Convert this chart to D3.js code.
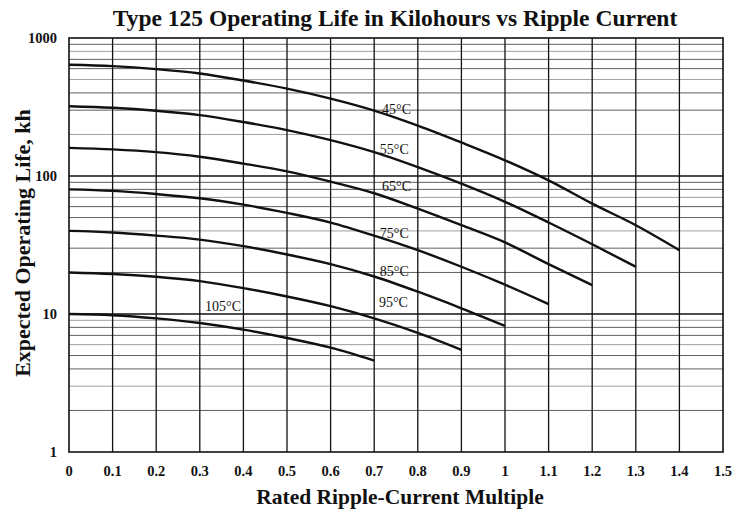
<!DOCTYPE html>
<html>
<head>
<meta charset="utf-8">
<script src="https://cdn.jsdelivr.net/npm/d3@7"></script>
<style>
  body { margin: 0; background: #fff; }
  svg { display: block; }
  text { font-family: "Liberation Serif", "Times New Roman", serif; fill: #111; }
</style>
</head>
<body>
<svg id="viz" width="737" height="517"></svg>
<script>
// values (kilohours at each ripple multiple)
var xsteps = [0, 0.1, 0.2, 0.3, 0.4, 0.5, 0.6, 0.7, 0.8, 0.9, 1.0, 1.1, 1.2, 1.3, 1.4]

var life45  = [640, 625, 595, 553, 492, 430, 364, 298, 232, 175, 130, 93, 63, 44, 29]
var life55  = [320, 312, 297, 276, 246, 215, 182, 149, 116, 88, 65, 46, 32, 22]
var life65  = [160, 156, 149, 138, 123, 108, 91, 75, 58, 44, 33, 23, 16.2]
var life75  = [80, 78, 74, 69, 62, 54, 46, 37, 29, 22, 16.3, 11.8]
var life85  = [40, 39, 37, 34.6, 31, 27, 23, 18.7, 14.5, 11, 8.2]
var life95  = [20, 19.5, 18.6, 17.3, 15.4, 13.4, 11.4, 9.3, 7.3, 5.5]
var life105 = [10, 9.8, 9.3, 8.6, 7.7, 6.7, 5.7, 4.6]

var series = [life45, life55, life65, life75, life85, life95, life105]
var temps = ["45°C", "55°C", "65°C", "75°C", "85°C", "95°C", "105°C"]
// label anchors in chart units: [multiple, kh]
var labelAt = [[0.718, 308], [0.713, 156], [0.718, 84], [0.713, 38.4], [0.713, 20.4], [0.711, 12.2], [0.312, 11.4]]

var xTicks = [0, 0.1, 0.2, 0.3, 0.4, 0.5, 0.6, 0.7, 0.8, 0.9, 1, 1.1, 1.2, 1.3, 1.4, 1.5]
var yTicks = [1, 10, 100, 1000]

var svg = d3.select("#viz")
var pl = 69, pr = 723, pt = 38, pb = 452

var x = d3.scaleLinear().domain([0, 1.5]).range([pl, pr])
var y = d3.scaleLog().domain([1, 1000]).range([pb, pt])

// minor horizontal grid (2..9 in each decade)
var minors = []
;[1, 10, 100].forEach(function (d) {
    for (var k = 2; k <= 9; k++) minors.push(d * k)
})
svg.append("g")
    .selectAll("line")
    .data(minors)
    .enter().append("line")
    .attr("x1", pl).attr("x2", pr)
    .attr("y1", d => y(d)).attr("y2", d => y(d))
    .attr("stroke", (d, i) => i % 3 == 1 ? "#a0a0a0" : "#606060")
    .attr("stroke-width", 1)

// major horizontal lines
svg.append("g")
    .selectAll("line")
    .data([10, 100])
    .enter().append("line")
    .attr("x1", pl).attr("x2", pr)
    .attr("y1", d => y(d)).attr("y2", d => y(d))
    .attr("stroke", "#111")
    .attr("stroke-width", 1.3)

// vertical grid
svg.append("g")
    .selectAll("line")
    .data(xTicks.slice(1, -1))
    .enter().append("line")
    .attr("x1", d => x(d)).attr("x2", d => x(d))
    .attr("y1", pt).attr("y2", pb)
    .attr("stroke", "#111")
    .attr("stroke-width", 1.3)

// frame
svg.append("rect")
    .attr("x", pl).attr("y", pt)
    .attr("width", pr - pl).attr("height", pb - pt)
    .attr("fill", "none")
    .attr("stroke", "#111")
    .attr("stroke-width", 1.6)

// curves
var line = d3.line()
    .x((d, i) => x(xsteps[i]))
    .y(d => y(d))
    .curve(d3.curveMonotoneX)

svg.append("g")
    .selectAll("path")
    .data(series)
    .enter().append("path")
    .attr("d", line)
    .attr("fill", "none")
    .attr("stroke", "#111")
    .attr("stroke-width", 2.4)

// curve labels
svg.append("g")
    .selectAll("text")
    .data(temps)
    .enter().append("text")
    .attr("x", (d, i) => x(labelAt[i][0]))
    .attr("y", (d, i) => y(labelAt[i][1]) + 5)
    .attr("font-size", "14px")
    .text(d => d)

// x tick labels
svg.append("g")
    .selectAll("text")
    .data(xTicks)
    .enter().append("text")
    .attr("x", d => x(d))
    .attr("y", 476)
    .attr("text-anchor", "middle")
    .attr("font-size", "14.5px")
    .attr("font-weight", "bold")
    .text(d => d3.format("~g")(d))

// y tick labels
svg.append("g")
    .selectAll("text")
    .data(yTicks)
    .enter().append("text")
    .attr("x", 57)
    .attr("y", d => y(d) + 5)
    .attr("text-anchor", "end")
    .attr("font-size", "14.5px")
    .attr("font-weight", "bold")
    .text(d => d)

// titles
svg.append("text")
    .attr("x", 395).attr("y", 26)
    .attr("text-anchor", "middle")
    .attr("font-size", "23.5px")
    .attr("font-weight", "bold")
    .text("Type 125 Operating Life in Kilohours vs Ripple Current")

svg.append("text")
    .attr("x", 400).attr("y", 504)
    .attr("text-anchor", "middle")
    .attr("font-size", "21.5px")
    .attr("font-weight", "bold")
    .text("Rated Ripple-Current Multiple")

svg.append("text")
    .attr("transform", "translate(30,243) rotate(-90)")
    .attr("text-anchor", "middle")
    .attr("font-size", "22px")
    .attr("font-weight", "bold")
    .text("Expected Operating Life, kh")
</script>
</body>
</html>
